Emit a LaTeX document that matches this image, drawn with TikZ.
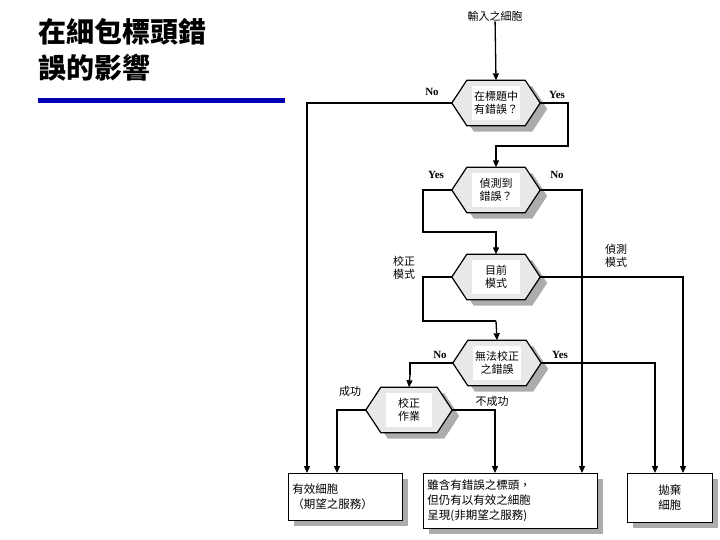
\documentclass[tikz,border=0pt]{standalone}
\usepackage{fontspec}
\setmainfont{Liberation Serif}
\newfontfamily\cjk{Noto Sans CJK TC}
\usetikzlibrary{arrows.meta,calc}
\begin{document}
\begin{tikzpicture}[x=1pt,y=-1pt,
  lab/.style={font=\cjk\fontsize{11}{13}\selectfont,align=left,inner sep=0},
  en/.style={font=\bfseries\fontsize{11}{13}\selectfont,inner sep=0},
  hx/.style={minimum width=88pt,minimum height=45pt,inner sep=0,font=\cjk\fontsize{11}{13}\selectfont,align=center},
  bx/.style={draw,thick,fill=white,font=\cjk\fontsize{11.5}{15}\selectfont,align=left,inner xsep=4pt,inner ysep=4pt,anchor=north west},
  ln/.style={line width=1.3pt},
  tk/.style={line width=2.6pt},
  ar/.style={-{Triangle[length=7pt,width=6pt]}}]
\useasboundingbox (0,0) rectangle (720,540);
\newcommand\hexdraw[1]{%
  \fill[gray!65] ($(#1.west)+(7,6)$) -- ($(#1.north west)+(22,6)$) -- ($(#1.north east)+(-8,6)$) -- ($(#1.east)+(7,6)$) -- ($(#1.south east)+(-8,6)$) -- ($(#1.south west)+(22,6)$) -- cycle;
  \draw[line width=1.2pt,fill=gray!18] (#1.west) -- ($(#1.north west)+(15,0)$) -- ($(#1.north east)+(-15,0)$) -- (#1.east) -- ($(#1.south east)+(-15,0)$) -- ($(#1.south west)+(15,0)$) -- cycle;
  \fill[white] ($(#1.north west)+(20,6)$) rectangle ($(#1.south east)+(-20,-6)$);}
% title
\node[anchor=north west,font=\cjk\bfseries\fontsize{28}{36}\selectfont,align=left,inner sep=0] (title) at (38,18) {在細包標頭錯\\誤的影響};
\fill[blue!70!black] (38,98) rectangle (285,103);
% nodes
\node[lab] (in) at (495,16) {輸入之細胞};
\node[hx] (h1) at (496,103) {}; \hexdraw{h1}\node[lab,align=center] at (h1) {在標題中\\有錯誤？};
\node[hx] (h2) at (496,190) {}; \hexdraw{h2}\node[lab,align=center] at (h2) {偵測到\\錯誤？};
\node[hx] (h3) at (496,277) {}; \hexdraw{h3}\node[lab,align=center] at (h3) {目前\\模式};
\node[hx] (h4) at (497,363) {}; \hexdraw{h4}\node[lab,align=center] at (h4) {無法校正\\之錯誤};
\node[hx,minimum width=86pt] (h5) at (409,410) {}; \hexdraw{h5}\node[lab,align=center] at (h5) {校正\\作業};
\fill[gray!65] (294,479) rectangle (408,526);
\node[bx,text width=106pt,minimum height=47pt] (b1) at (288,473) {有效細胞\\（期望之服務）};
\fill[gray!65] (429,479) rectangle (603,534);
\node[bx,text width=166pt,minimum height=55pt] (b2) at (423,473) {雖含有錯誤之標頭，\\但仍有以有效之細胞\\呈現(非期望之服務)};
\fill[gray!65] (633,479) rectangle (718,528);
\node[bx,minimum height=49pt,align=center,text width=77pt] (b3) at (627,473) {拋棄\\細胞};
% labels
\node[en] at (432,92) {No};
\node[en] at (557,95) {Yes};
\node[en] at (436,175) {Yes};
\node[en] at (557,175) {No};
\node[lab] at (404,268) {校正\\模式};
\node[lab] at (616,256) {偵測\\模式};
\node[en] at (440,355) {No};
\node[en] at (560,355) {Yes};
\node[lab] at (350,391) {成功};
\node[lab] at (492,401) {不成功};
% connectors
\coordinate (c1) at (568,146);
\draw[ln,ar] (in) -- (h1.north);
\draw[ln,ar] (h1.west) -| (b1.north west -| 307,0);
\draw[ln,ar] (h1.east) -| (c1) -| (h2.north);
\draw[ln,ar] (h2.west) -| (423,232) -| (h3.north);
\draw[ln,ar] (h2.east) -| (b2.north east -| 582,0);
\draw[ln,ar] (h3.east) -| (b3.north east -| 683,0);
\draw[tk] (h3.west) -| (423,321) -- (496,321);
\draw[ln,ar] (496,321) -- (h4.north);
\draw[tk] (h4.west) -| (410,375);
\draw[ln,ar] (410,375) -- (h5.north);
\draw[tk] (h4.east) -| (655,420);
\draw[ln,ar] (655,420) -- (b3.north -| 655,0);
\draw[tk] (h5.west) -| (337,440);
\draw[ln,ar] (337,440) -- (b1.north -| 337,0);
\draw[tk] (h5.east) -| (495,440);
\draw[ln,ar] (495,440) -- (b2.north -| 495,0);
\end{tikzpicture}
\end{document}
